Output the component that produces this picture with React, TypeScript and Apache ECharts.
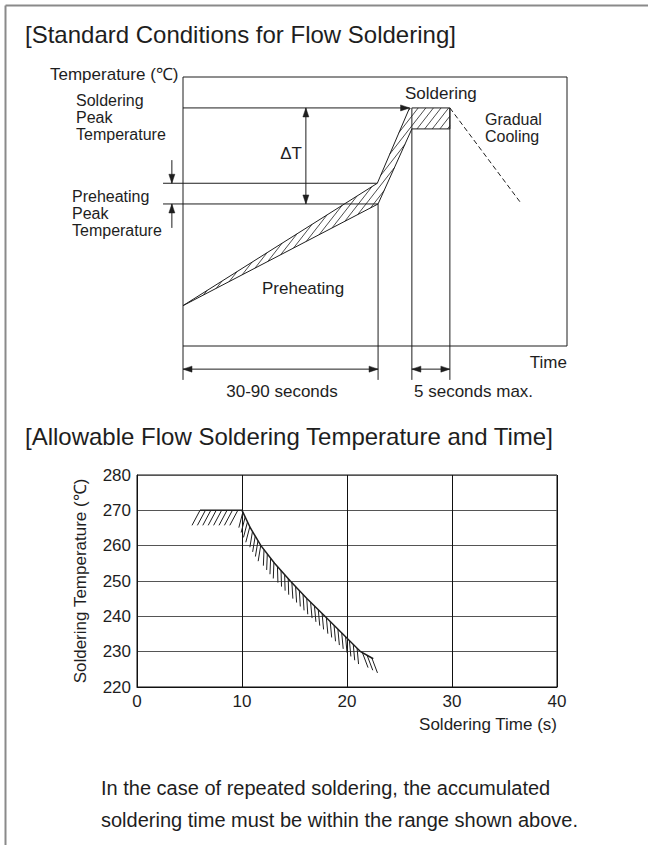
import React, { useEffect, useRef } from 'react';
import * as echarts from 'echarts';

type P = [number, number];

const FONT = '"Liberation Sans", Arial, Helvetica, sans-serif';
const INK = '#1e1e1e';

// ---- [Standard Conditions for Flow Soldering] (schematic, frame spans 0..100 on both axes)
const profileUpperTime = [0, 50.6, 59.0];
const profileUpperTemp = [15, 60.5, 88.5];
const profileLowerTime = [0, 50.8, 59.6];
const profileLowerTemp = [15, 52.8, 80.7];
const solderWindowTime = [59.6, 69.5];
const solderWindowTemp = [80.7, 88.5];
const coolingTime = [69.5, 87.8];
const coolingTemp = [88.5, 53.5];

// ---- [Allowable Flow Soldering Temperature and Time]
const timeTicks = [0, 10, 20, 30, 40];
const tempTicks = [220, 230, 240, 250, 260, 270, 280];
const limitTime = [6, 10, 10.8, 11.8, 13.1, 14.6, 16.2, 17.9, 19.6, 21.3, 22.5];
const limitTemp = [270, 270, 265, 260, 255, 250, 245, 240, 235, 230, 228];

function seg(a: P, b: P, extra: any = {}) {
  return {
    type: 'line',
    shape: { x1: a[0], y1: a[1], x2: b[0], y2: b[1] },
    style: { stroke: INK, lineWidth: 1, fill: 'none', ...extra },
  };
}

function poly(points: P[], extra: any = {}) {
  return { type: 'polyline', shape: { points }, style: { stroke: INK, lineWidth: 1, fill: 'none', ...extra } };
}

function arrowHead(tip: P, from: P, len = 9, half = 3) {
  const dx = tip[0] - from[0];
  const dy = tip[1] - from[1];
  const d = Math.hypot(dx, dy) || 1;
  const ux = dx / d, uy = dy / d;
  const bx = tip[0] - ux * len, by = tip[1] - uy * len;
  return {
    type: 'polygon',
    shape: { points: [tip, [bx - uy * half, by + ux * half], [bx + uy * half, by - ux * half]] },
    style: { fill: INK, stroke: INK, lineWidth: 0.5 },
  };
}

function arrow(a: P, b: P, startHead: boolean, endHead: boolean) {
  const out: any[] = [seg(a, b)];
  if (endHead) out.push(arrowHead(b, a));
  if (startHead) out.push(arrowHead(a, b));
  return out;
}

function hatch(pg: P[], angleDeg: number, spacing: number, lw: number) {
  const a = (angleDeg * Math.PI) / 180;
  const h = [Math.cos(a), -Math.sin(a)];
  const n = [-h[1], h[0]];
  const proj = pg.map((p) => p[0] * n[0] + p[1] * n[1]);
  const mn = Math.min(...proj), mx = Math.max(...proj);
  const out: any[] = [];
  for (let c = Math.ceil(mn / spacing) * spacing; c <= mx; c += spacing) {
    const pts: P[] = [];
    for (let i = 0; i < pg.length; i++) {
      const j = (i + 1) % pg.length;
      const fa = proj[i] - c, fb = proj[j] - c;
      if ((fa < 0 && fb >= 0) || (fa >= 0 && fb < 0)) {
        const t = fa / (fa - fb);
        pts.push([pg[i][0] + t * (pg[j][0] - pg[i][0]), pg[i][1] + t * (pg[j][1] - pg[i][1])]);
      }
    }
    pts.sort((p, q) => p[0] * h[0] + p[1] * h[1] - (q[0] * h[0] + q[1] * h[1]));
    for (let k = 0; k + 1 < pts.length; k += 2) out.push(seg(pts[k], pts[k + 1], { lineWidth: lw }));
  }
  return out;
}

function renderProfile(params: any, api: any) {
  if (params.dataIndex !== 0) return null;
  const c = (u: number, v: number): P => api.coord([u, v]) as P;
  const ch: any[] = [];
  const floor = -12.6, dimLevel = -8.6, levelStart = -5.2, sideX = -2.9, deltaX = 32;
  const peak = solderWindowTemp[1];
  const preHi = profileUpperTemp[1], preLo = profileLowerTemp[1];

  // frame
  const tl = c(0, 100), br = c(100, 0);
  ch.push({ type: 'rect', shape: { x: tl[0], y: tl[1], width: br[0] - tl[0], height: br[1] - tl[1] }, style: { fill: 'none', stroke: INK, lineWidth: 1 } });
  ch.push(seg(c(0, 0), c(0, floor)));

  // hatched band + soldering window
  const pg: P[] = [
    c(profileUpperTime[0], profileUpperTemp[0]),
    c(profileUpperTime[1], profileUpperTemp[1]),
    c(profileUpperTime[2], profileUpperTemp[2]),
    c(solderWindowTime[1], solderWindowTemp[1]),
    c(solderWindowTime[1], solderWindowTemp[0]),
    c(profileLowerTime[2], profileLowerTemp[2]),
    c(profileLowerTime[1], profileLowerTemp[1]),
  ];
  ch.push(...hatch(pg, 52, 6, 0.8));
  ch.push(poly(profileUpperTime.map((t, i) => c(t, profileUpperTemp[i]))));
  ch.push(poly(profileLowerTime.map((t, i) => c(t, profileLowerTemp[i]))));
  const wTL = c(solderWindowTime[0], solderWindowTemp[1]);
  const wBR = c(solderWindowTime[1], solderWindowTemp[0]);
  ch.push({ type: 'rect', shape: { x: wTL[0], y: wTL[1], width: wBR[0] - wTL[0], height: wBR[1] - wTL[1] }, style: { fill: 'none', stroke: INK, lineWidth: 1 } });

  // soldering peak reference line with arrow
  ch.push(...arrow(c(0, peak), c(profileUpperTime[2], peak), false, true));
  // preheating peak levels
  ch.push(seg(c(levelStart, preHi), c(profileUpperTime[1], preHi)));
  ch.push(seg(c(levelStart, preLo), c(profileLowerTime[1], preLo)));
  // delta T
  ch.push(...arrow(c(deltaX, peak), c(deltaX, preLo), true, true));
  // side arrows
  ch.push(...arrow(c(sideX, 69.1), c(sideX, preHi), false, true));
  ch.push(...arrow(c(sideX, 43.9), c(sideX, preLo), false, true));
  // verticals
  ch.push(seg(c(profileLowerTime[1], preLo), c(profileLowerTime[1], floor)));
  ch.push(seg(c(solderWindowTime[0], solderWindowTemp[0]), c(solderWindowTime[0], floor)));
  ch.push(seg(c(solderWindowTime[1], solderWindowTemp[1]), c(solderWindowTime[1], floor)));
  // cooling
  ch.push(seg(c(coolingTime[0], coolingTemp[0]), c(coolingTime[1], coolingTemp[1]), { lineDash: [5, 3] }));
  // dimension arrows
  ch.push(...arrow(c(0, dimLevel), c(profileLowerTime[1], dimLevel), true, true));
  ch.push(...arrow(c(solderWindowTime[0], dimLevel), c(solderWindowTime[1], dimLevel), true, true));
  return { type: 'group', children: ch };
}

function renderLimit(params: any, api: any) {
  if (params.dataIndex !== 0) return null;
  const pts = limitTime.map((t, i) => api.coord([t, limitTemp[i]]) as P);
  const ch: any[] = [];
  const step = 5.4;
  const strokeLen = 16;
  const turn = (40 * Math.PI) / 180;
  let carry = 0;
  for (let i = 0; i < pts.length - 1; i++) {
    const A = pts[i], B = pts[i + 1];
    const L = Math.hypot(B[0] - A[0], B[1] - A[1]);
    const flat = Math.abs(B[1] - A[1]) < 0.5;
    let off: number[];
    if (flat) {
      off = [-8, 15];
    } else {
      const th = Math.atan2(B[1] - A[1], B[0] - A[0]) + turn;
      off = [strokeLen * Math.cos(th), strokeLen * Math.sin(th)];
    }
    let s = flat ? carry : Math.max(carry, 2);
    while (s <= L) {
      const t = s / L;
      const x = A[0] + t * (B[0] - A[0]);
      const y = A[1] + t * (B[1] - A[1]);
      ch.push(seg([x, y], [x + off[0], y + off[1]], { lineWidth: 1 }));
      s += step;
    }
    carry = s - L;
  }
  ch.push(poly(pts, { lineWidth: 1.5 }));
  return { type: 'group', children: ch };
}

function txt(text: string, x: number, y: number, size = 17, align = 'left') {
  return {
    type: 'text',
    x,
    y,
    silent: true,
    style: {
      text,
      fill: INK,
      fontSize: size,
      fontFamily: FONT,
      textAlign: align,
      textVerticalAlign: 'middle',
      align,
      verticalAlign: 'middle',
    },
  };
}

function buildOption(): any {
  const frameStyle = { stroke: '#8a8a8a', lineWidth: 2 };
  return {
    animation: false,
    backgroundColor: '#ffffff',
    textStyle: { fontFamily: FONT },
    grid: [
      { left: 183, top: 77, width: 384, height: 269, show: false },
      { left: 137, top: 475, width: 420, height: 212, show: true, borderColor: '#111', borderWidth: 1, backgroundColor: 'transparent' },
    ],
    xAxis: [
      { gridIndex: 0, type: 'value', min: 0, max: 100, show: false },
      {
        gridIndex: 1,
        type: 'value',
        min: timeTicks[0],
        max: timeTicks[timeTicks.length - 1],
        interval: timeTicks[1] - timeTicks[0],
        axisLine: { show: true, lineStyle: { color: '#111', width: 1 } },
        axisTick: { show: false },
        axisLabel: { color: INK, fontSize: 17, fontFamily: FONT, margin: 6 },
        splitLine: { show: true, lineStyle: { color: '#111', width: 1 } },
      },
    ],
    yAxis: [
      { gridIndex: 0, type: 'value', min: 0, max: 100, show: false },
      {
        gridIndex: 1,
        type: 'value',
        min: tempTicks[0],
        max: tempTicks[tempTicks.length - 1],
        interval: tempTicks[1] - tempTicks[0],
        name: 'Soldering Temperature (℃)',
        nameLocation: 'middle',
        nameGap: 48,
        nameTextStyle: { color: INK, fontSize: 17, fontFamily: FONT },
        axisLine: { show: true, lineStyle: { color: '#111', width: 1 } },
        axisTick: { show: false },
        axisLabel: { color: INK, fontSize: 17, fontFamily: FONT, margin: 6 },
        splitLine: { show: true, lineStyle: { color: '#555', width: 1.2 } },
      },
    ],
    series: [
      {
        type: 'custom',
        xAxisIndex: 0,
        yAxisIndex: 0,
        clip: false,
        silent: true,
        data: [[0, 0]],
        renderItem: renderProfile,
      },
      {
        type: 'custom',
        xAxisIndex: 1,
        yAxisIndex: 1,
        clip: false,
        silent: true,
        z: 5,
        data: limitTime.map((t, i) => [t, limitTemp[i]]),
        renderItem: renderLimit,
      },
    ],
    graphic: [
      { type: 'line', silent: true, shape: { x1: 5.5, y1: 5.5, x2: 648, y2: 5.5 }, style: frameStyle },
      { type: 'line', silent: true, shape: { x1: 5.5, y1: 5.5, x2: 5.5, y2: 845 }, style: frameStyle },
      txt('[Standard Conditions for Flow Soldering]', 25, 34, 24),
      txt('Temperature (℃)', 50, 74),
      txt('Soldering', 76, 100, 16),
      txt('Peak', 76, 117, 16),
      txt('Temperature', 76, 134, 16),
      txt('Preheating', 72, 196, 16),
      txt('Peak', 72, 213, 16),
      txt('Temperature', 72, 230, 16),
      txt('ΔT', 291, 153, 17, 'center'),
      txt('Soldering', 405, 93),
      txt('Gradual', 485, 119, 16),
      txt('Cooling', 485, 136, 16),
      txt('Preheating', 262, 288),
      txt('Time', 567, 362, 17, 'right'),
      txt('30-90 seconds', 282, 391, 17, 'center'),
      txt('5 seconds max.', 414, 391),
      txt('[Allowable Flow Soldering Temperature and Time]', 25, 436, 24),
      txt('Soldering Time (s)', 557, 724, 17, 'right'),
      txt('In the case of repeated soldering, the accumulated', 101, 788, 20),
      txt('soldering time must be within the range shown above.', 101, 820, 20),
    ],
  };
}

export default function App() {
  const ref = useRef<HTMLDivElement>(null);
  useEffect(() => {
    if (!ref.current) return;
    const chart = echarts.init(ref.current, null, { renderer: 'svg' });
    chart.setOption(buildOption());
    return () => chart.dispose();
  }, []);
  return (
    <div
      ref={ref}
      style={{ position: 'fixed', left: 0, top: 0, width: 648, height: 845, background: '#fff' }}
    />
  );
}
